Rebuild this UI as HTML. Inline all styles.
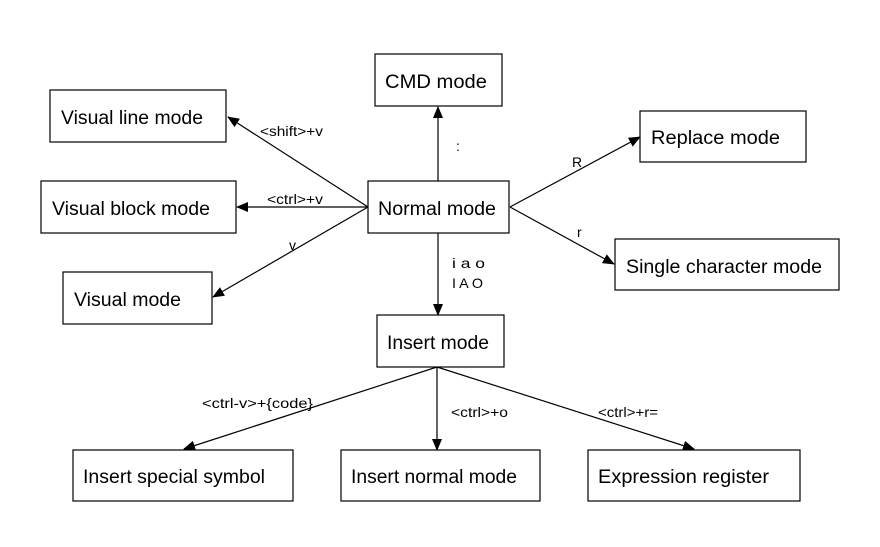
<!DOCTYPE html>
<html><head><meta charset="utf-8"><style>
html,body{margin:0;padding:0;background:#fff;}
svg{display:block;}
.b{fill:#fff;stroke:#000;stroke-width:1.2;}
.t{font-family:"Liberation Sans",sans-serif;font-size:19px;fill:#000;}
.l{font-family:"Liberation Sans",sans-serif;font-size:14px;fill:#000;}
.c{stroke:#000;stroke-width:1.2;fill:none;}
</style></head><body>
<svg width="880" height="547" viewBox="0 0 880 547" xmlns="http://www.w3.org/2000/svg">
<defs><marker id="a" markerWidth="12" markerHeight="10" refX="11" refY="5" orient="auto" markerUnits="userSpaceOnUse"><path d="M0,0 L12,5 L0,10 z" fill="#000"/></marker></defs>
<rect class="b" x="375" y="54" width="127" height="52"/><text class="t" x="385" y="88" textLength="102" lengthAdjust="spacingAndGlyphs">CMD mode</text>
<rect class="b" x="50" y="90" width="176" height="52"/><text class="t" x="61" y="124" textLength="142" lengthAdjust="spacingAndGlyphs">Visual line mode</text>
<rect class="b" x="41" y="181" width="195" height="52"/><text class="t" x="52" y="215" textLength="158" lengthAdjust="spacingAndGlyphs">Visual block mode</text>
<rect class="b" x="368" y="181" width="141" height="52"/><text class="t" x="378" y="215" textLength="118" lengthAdjust="spacingAndGlyphs">Normal mode</text>
<rect class="b" x="63" y="272" width="149" height="52"/><text class="t" x="74" y="306" textLength="107" lengthAdjust="spacingAndGlyphs">Visual mode</text>
<rect class="b" x="640" y="111" width="166" height="51"/><text class="t" x="651" y="144" textLength="129" lengthAdjust="spacingAndGlyphs">Replace mode</text>
<rect class="b" x="615" y="239" width="224" height="51"/><text class="t" x="626" y="273" textLength="196" lengthAdjust="spacingAndGlyphs">Single character mode</text>
<rect class="b" x="377" y="315" width="127" height="52"/><text class="t" x="387" y="349" textLength="102" lengthAdjust="spacingAndGlyphs">Insert mode</text>
<rect class="b" x="73" y="450" width="220" height="51"/><text class="t" x="83" y="483" textLength="182" lengthAdjust="spacingAndGlyphs">Insert special symbol</text>
<rect class="b" x="341" y="450" width="199" height="51"/><text class="t" x="351" y="483" textLength="166" lengthAdjust="spacingAndGlyphs">Insert normal mode</text>
<rect class="b" x="588" y="450" width="212" height="51"/><text class="t" x="598" y="483" textLength="171" lengthAdjust="spacingAndGlyphs">Expression  register</text>
<line class="c" x1="438" y1="181" x2="438" y2="107" marker-end="url(#a)"/>
<line class="c" x1="368" y1="207" x2="228" y2="117" marker-end="url(#a)"/>
<line class="c" x1="368" y1="207" x2="237" y2="207" marker-end="url(#a)"/>
<line class="c" x1="368" y1="207" x2="213" y2="297" marker-end="url(#a)"/>
<line class="c" x1="510" y1="207" x2="640" y2="137" marker-end="url(#a)"/>
<line class="c" x1="510" y1="207" x2="614" y2="264" marker-end="url(#a)"/>
<line class="c" x1="438" y1="233" x2="438" y2="315" marker-end="url(#a)"/>
<line class="c" x1="437" y1="367" x2="184" y2="449" marker-end="url(#a)"/>
<line class="c" x1="437" y1="367" x2="437" y2="450" marker-end="url(#a)"/>
<line class="c" x1="437" y1="367" x2="694" y2="449" marker-end="url(#a)"/>
<text class="l" x="456" y="151">:</text>
<text class="l" x="260" y="136" textLength="63" lengthAdjust="spacingAndGlyphs">&lt;shift&gt;+v</text>
<text class="l" x="267" y="204" textLength="56" lengthAdjust="spacingAndGlyphs">&lt;ctrl&gt;+v</text>
<text class="l" x="289" y="250">v</text>
<text class="l" x="572" y="167">R</text>
<text class="l" x="577" y="237">r</text>
<text class="l" x="452" y="268" textLength="33" lengthAdjust="spacingAndGlyphs">i a o</text>
<text class="l" x="452" y="288" textLength="31" lengthAdjust="spacingAndGlyphs">I A O</text>
<text class="l" x="202" y="408" textLength="111" lengthAdjust="spacingAndGlyphs">&lt;ctrl-v&gt;+{code}</text>
<text class="l" x="451" y="417" textLength="57" lengthAdjust="spacingAndGlyphs">&lt;ctrl&gt;+o</text>
<text class="l" x="598" y="417" textLength="60" lengthAdjust="spacingAndGlyphs">&lt;ctrl&gt;+r=</text>
</svg>
</body></html>
